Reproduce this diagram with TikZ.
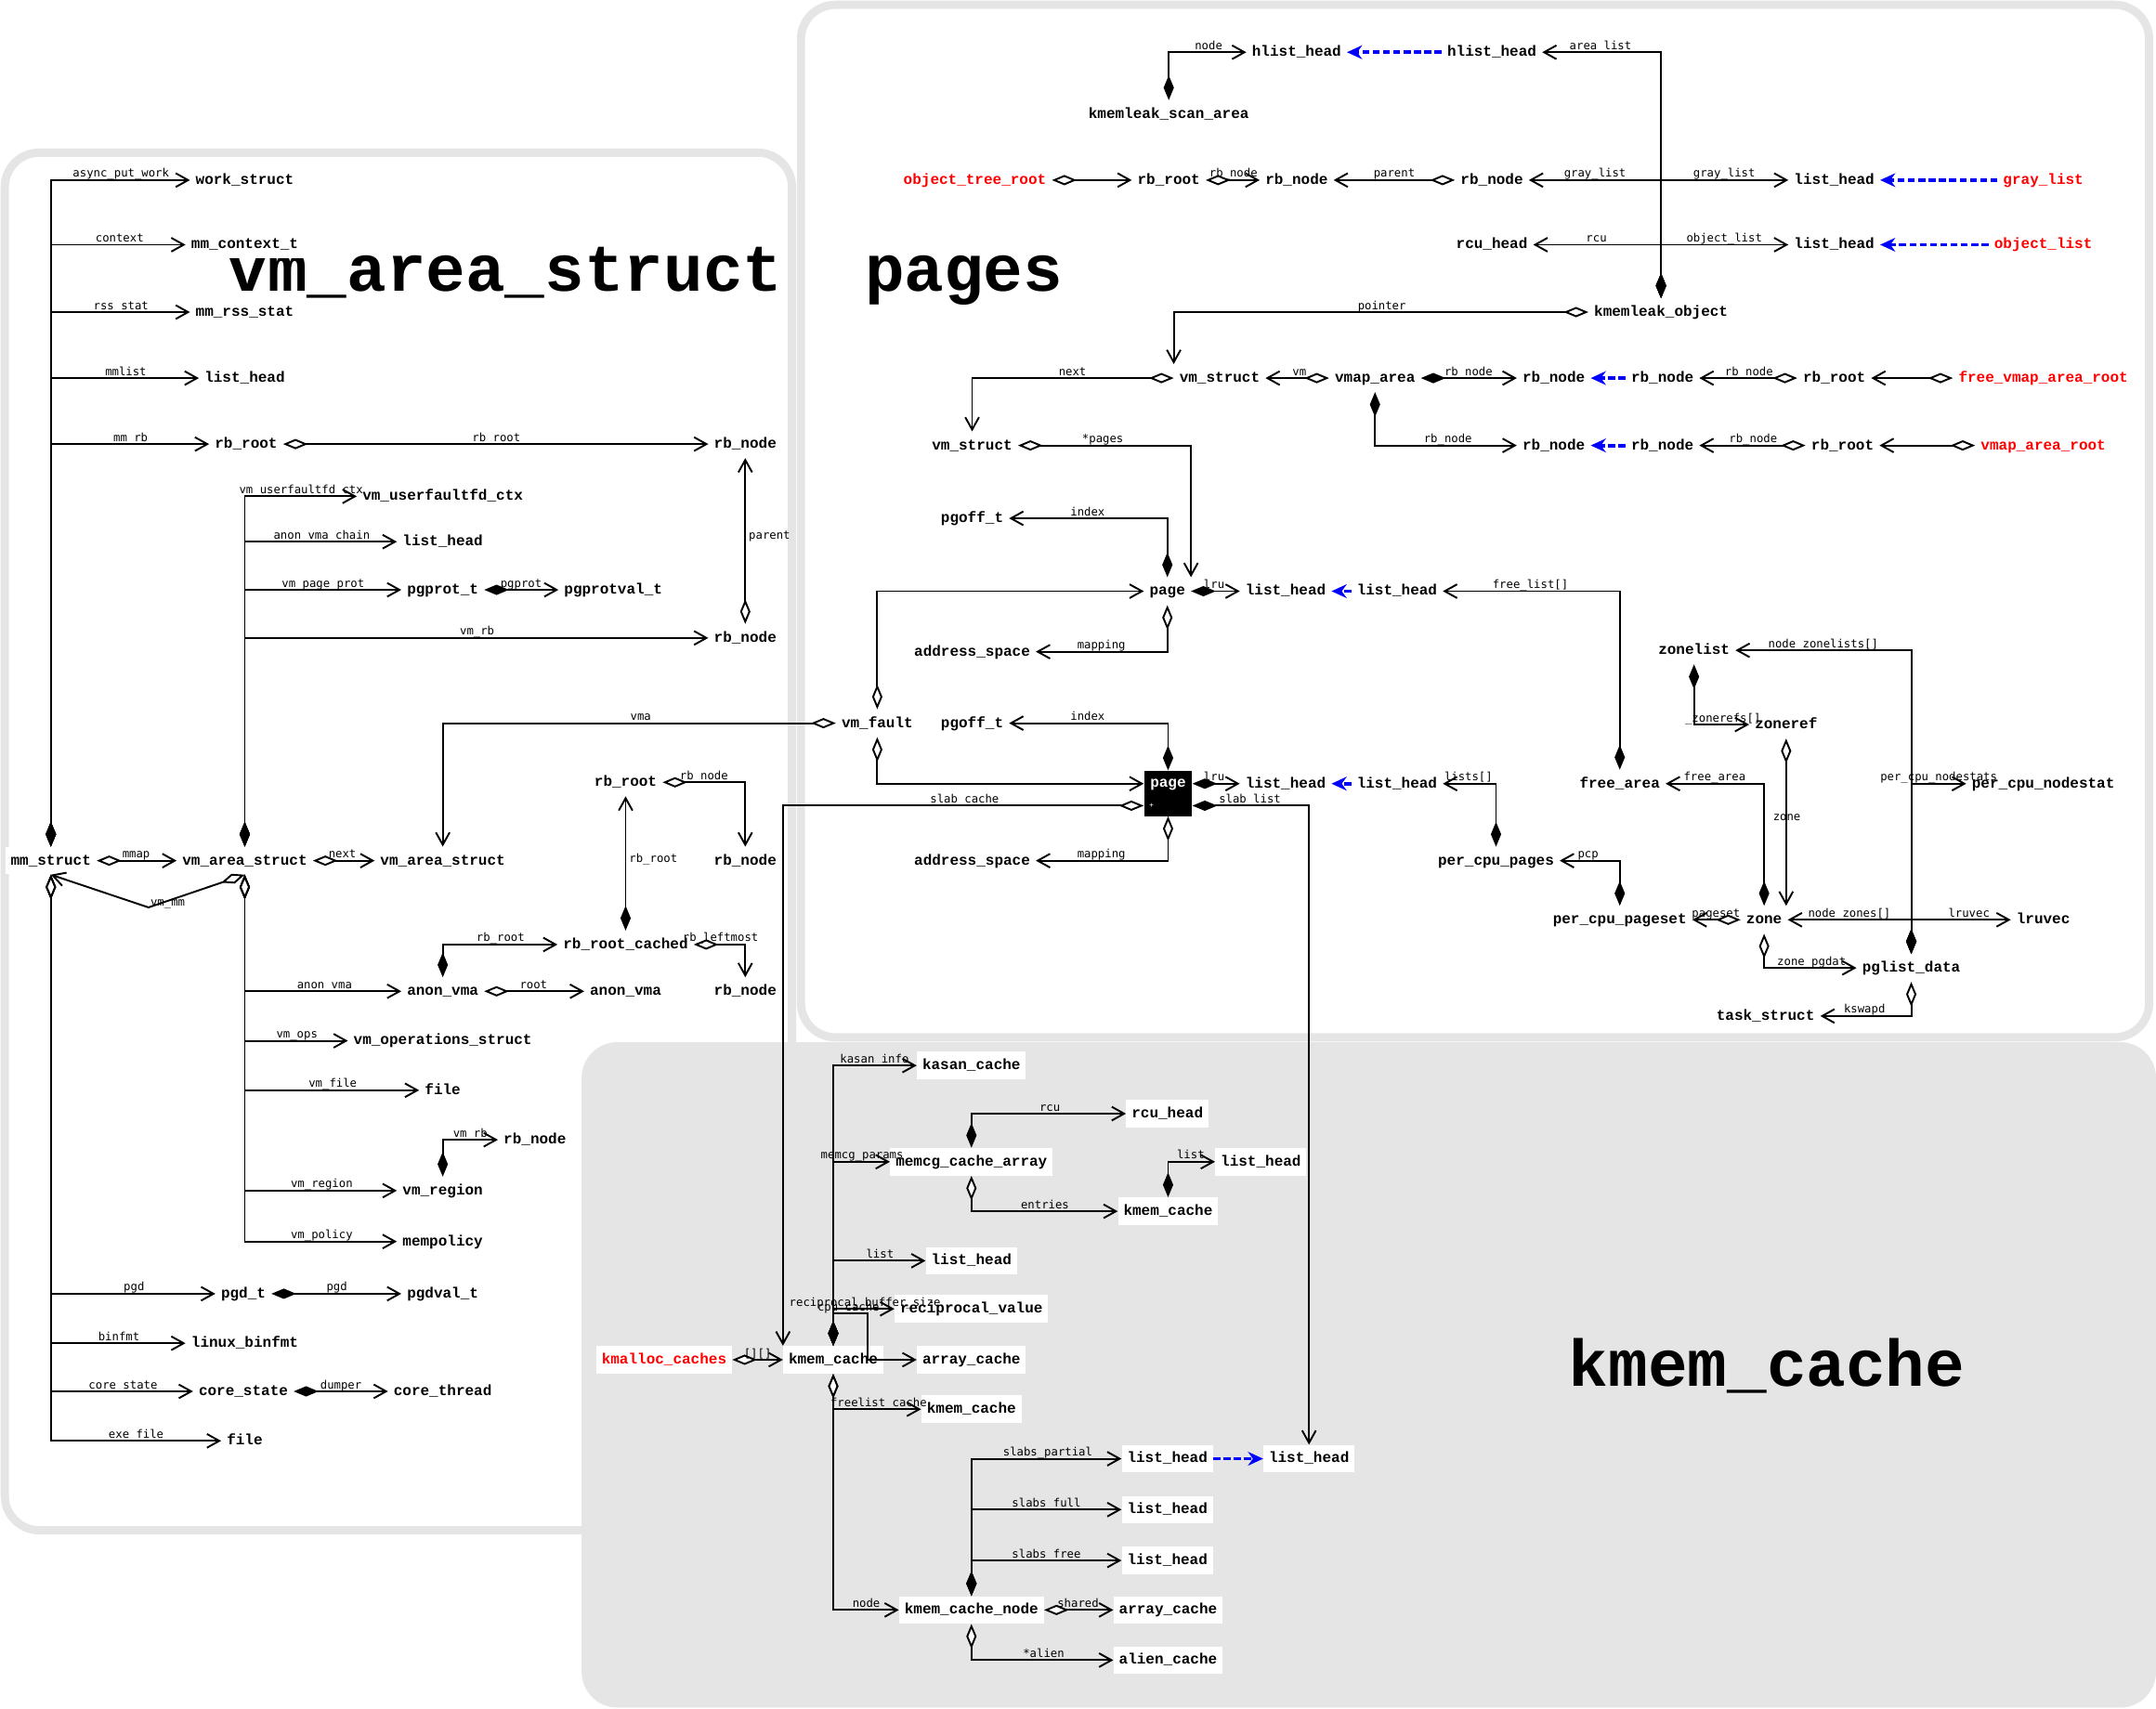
\documentclass[tikz,border=0pt]{standalone}
\usepackage{fontspec}
\usetikzlibrary{arrows.meta}
\newfontfamily\nodefont{Liberation Mono}
\newfontfamily\labfont{DejaVu Sans Mono}
\definecolor{clgray}{HTML}{E5E5E5}
\tikzset{
sbox/.style={font=\nodefont\bfseries\fontsize{10.8}{12}\selectfont,fill=white,inner xsep=4pt,inner ysep=0pt,minimum height=20pt,text height=8pt,text depth=2pt},
rbox/.style={sbox,text=red},
pbox/.style={sbox,fill=black,text=white,minimum width=35pt,minimum height=33pt,text height=12pt,text depth=21pt},
lab/.style={font=\labfont\fontsize{8.3}{9}\selectfont,anchor=base,inner sep=0pt},
comp/.style={line width=1.3pt,arrows={Diamond[length=18pt,width=7.5pt]-Straight Barb[length=9pt,width=10pt]}},
agg/.style={line width=1.3pt,arrows={Diamond[length=18pt,width=7.5pt,fill=white]-Straight Barb[length=9pt,width=10pt]}},
blu/.style={draw=blue,line width=2.6pt,dash pattern=on 5pt off 2.5pt,arrows={-Stealth[length=11pt,width=10pt]}},
ttl/.style={font=\nodefont\bfseries\fontsize{48}{50}\selectfont,anchor=base,inner sep=0pt},
clus/.style={draw=clgray,line width=6pt,fill=white,rounded corners=25pt}
}
\begin{document}
\begin{tikzpicture}[x=1pt,y=-1pt]
\useasboundingbox (0,0) rectangle (1568,1243);
\draw[clus] (3.5,111) rectangle (576,1113);
\draw[clus] (582.5,3.5) rectangle (1563,754.5);
\fill[clgray,rounded corners=26pt] (423,758) rectangle (1568,1242);
\node[ttl] (t1) at (367.5,212) {vm\_area\_struct};
\node[ttl] (t2) at (701,212) {pages};
\node[ttl] (t3) at (1285,1008) {kmem\_cache};

\node[sbox] (mm) at (37,626) {mm\_struct};
\node[sbox] (ws) at (178,131) {work\_struct};
\node[sbox] (mmc) at (178,178) {mm\_context\_t};
\node[sbox] (mrs) at (178,227) {mm\_rss\_stat};
\node[sbox] (mlh) at (178,275) {list\_head};
\node[sbox] (mrb) at (179,323) {rb\_root};
\node[sbox] (rbn1) at (542,323) {rb\_node};
\node[sbox] (rbn2) at (542,464) {rb\_node};
\node[sbox] (vas1) at (178,626) {vm\_area\_struct};
\node[sbox] (vas2) at (322,626) {vm\_area\_struct};
\node[sbox] (ufd) at (322,361) {vm\_userfaultfd\_ctx};
\node[sbox] (avc) at (322,394) {list\_head};
\node[sbox] (pgp) at (322,429) {pgprot\_t};
\node[sbox] (pgpv) at (446,429) {pgprotval\_t};
\node[sbox] (lrbr) at (455,569) {rb\_root};
\node[sbox] (lrbn1) at (542,626) {rb\_node};
\node[sbox] (rbrc) at (455,687) {rb\_root\_cached};
\node[sbox] (lrbn2) at (542,721) {rb\_node};
\node[sbox] (avma1) at (322,721) {anon\_vma};
\node[sbox] (avma2) at (455,721) {anon\_vma};
\node[sbox] (vops) at (322,757) {vm\_operations\_struct};
\node[sbox] (vfile) at (322,793) {file};
\node[sbox] (vrbn) at (389,829) {rb\_node};
\node[sbox] (vreg) at (322,866) {vm\_region};
\node[sbox] (vpol) at (322,903) {mempolicy};
\node[sbox] (pgdt) at (177,941) {pgd\_t};
\node[sbox] (pgdv) at (322,941) {pgdval\_t};
\node[sbox] (binf) at (178,977) {linux\_binfmt};
\node[sbox] (cst) at (177,1012) {core\_state};
\node[sbox] (cth) at (322,1012) {core\_thread};
\node[sbox] (exf) at (178,1048) {file};
\coordinate (vmmbend) at (108,660);

\node[sbox] (hl1) at (943,38) {hlist\_head};
\node[sbox] (hl2) at (1085,38) {hlist\_head};
\node[sbox] (ksa) at (850,83) {kmemleak\_scan\_area};
\node[rbox] (otr) at (709,131) {object\_tree\_root};
\node[sbox] (ork) at (850,131) {rb\_root};
\node[sbox] (orn1) at (943,131) {rb\_node};
\node[sbox] (orn2) at (1085,131) {rb\_node};
\node[sbox] (lhg) at (1334,131) {list\_head};
\node[rbox] (grl) at (1486,131) {gray\_list};
\node[sbox] (rcuh) at (1085,178) {rcu\_head};
\node[sbox] (lho) at (1334,178) {list\_head};
\node[rbox] (objl) at (1486,178) {object\_list};
\node[sbox] (kmo) at (1208,227) {kmemleak\_object};
\node[sbox] (vms1) at (887,275) {vm\_struct};
\node[sbox] (vmap) at (1000,275) {vmap\_area};
\node[sbox] (vrn1) at (1130,275) {rb\_node};
\node[sbox] (vrn2) at (1209,275) {rb\_node};
\node[sbox] (vrr1) at (1334,275) {rb\_root};
\node[rbox] (fvr) at (1486,275) {free\_vmap\_area\_root};
\node[sbox] (vrn3) at (1130,324) {rb\_node};
\node[sbox] (vrn4) at (1209,324) {rb\_node};
\node[sbox] (vrr2) at (1340,324) {rb\_root};
\node[rbox] (var) at (1486,324) {vmap\_area\_root};
\node[sbox] (vms2) at (707,324) {vm\_struct};
\node[sbox] (pgo1) at (707,377) {pgoff\_t};
\node[sbox] (page1) at (849,430) {page};
\node[sbox] (lh1) at (935,430) {list\_head};
\node[sbox] (lh2) at (1016,430) {list\_head};
\node[sbox] (as1) at (707,474) {address\_space};
\node[sbox] (vmf) at (638,526) {vm\_fault};
\node[sbox] (pgo2) at (707,526) {pgoff\_t};
\node[pbox] (page2) at (849.5,577) {page};
\node[font=\labfont\fontsize{5}{6}\selectfont,text=white,inner sep=0pt] (pplus) at (837.5,586) {+};
\node[sbox] (lh3) at (935,570) {list\_head};
\node[sbox] (lh4) at (1016,570) {list\_head};
\node[sbox] (as2) at (707,626) {address\_space};
\node[sbox] (fra) at (1178,570) {free\_area};
\node[sbox] (pcp) at (1088,626) {per\_cpu\_pages};
\node[sbox] (pcps) at (1178,669) {per\_cpu\_pageset};
\node[sbox] (zone) at (1283,669) {zone};
\node[sbox] (zl) at (1232,473) {zonelist};
\node[sbox] (zr) at (1299,527) {zoneref};
\node[sbox] (pgl) at (1390,704) {pglist\_data};
\node[sbox] (pcn) at (1486,570) {per\_cpu\_nodestat};
\node[sbox] (lru) at (1486,669) {lruvec};
\node[sbox] (tsk) at (1284,739) {task\_struct};

\node[rbox] (kmc) at (483,989) {kmalloc\_caches};
\node[sbox] (kc1) at (606,989) {kmem\_cache};
\node[sbox] (kas) at (706.5,775) {kasan\_cache};
\node[sbox] (mca) at (706.5,845) {memcg\_cache\_array};
\node[sbox] (rcu2) at (849,810) {rcu\_head};
\node[sbox] (kc2) at (849.5,881) {kmem\_cache};
\node[sbox] (lh5) at (917,845) {list\_head};
\node[sbox] (lh6) at (706.5,917) {list\_head};
\node[sbox] (rcv) at (706.5,952) {reciprocal\_value};
\node[sbox] (arc1) at (706.5,989) {array\_cache};
\node[sbox] (kc3) at (706.5,1025) {kmem\_cache};
\node[sbox] (kcn) at (706.5,1171) {kmem\_cache\_node};
\node[sbox] (lh7) at (849,1061) {list\_head};
\node[sbox] (lh8) at (952,1061) {list\_head};
\node[sbox] (lh9) at (849,1098) {list\_head};
\node[sbox] (lh10) at (849,1135) {list\_head};
\node[sbox] (arc2) at (849.5,1171) {array\_cache};
\node[sbox] (alc) at (849.5,1207.5) {alien\_cache};
\coordinate (cpuc) at (631,955);

\draw[comp] (mm.north) |- (ws.west) node[lab] at (88,129) {async\_put\_work};
\draw[comp] (mm.north) |- (mmc.west) node[lab] at (87,176) {context};
\draw[comp] (mm.north) |- (mrs.west) node[lab] at (88,225) {rss\_stat};
\draw[comp] (mm.north) |- (mlh.west) node[lab] at (91.5,273) {mmlist};
\draw[comp] (mm.north) |- (mrb.west) node[lab] at (95,321) {mm\_rb};
\draw[agg] (mrb.east) -- (rbn1.west) node[lab] at (361,321) {rb\_root};
\draw[agg] (rbn2.north) -- (rbn1.south) node[lab,anchor=west] at (544,390) {parent};
\draw[comp] (vas1.north) |- (ufd.west) node[lab] at (219,359) {vm\_userfaultfd\_ctx};
\draw[comp] (vas1.north) |- (avc.west) node[lab] at (234,392) {anon\_vma\_chain};
\draw[comp] (vas1.north) |- (pgp.west) node[lab] at (235,427) {vm\_page\_prot};
\draw[comp] (pgp.east) -- (pgpv.west) node[lab] at (379,427) {pgprot};
\draw[comp] (vas1.north) |- (rbn2.west) node[lab] at (347,462) {vm\_rb};
\draw[agg] (mm.east) -- (vas1.west) node[lab] at (99,624) {mmap};
\draw[agg] (vas1.east) -- (vas2.west) node[lab] at (249,624) {next};
\draw[agg] (vas1.south) -- (vmmbend) -- (mm.south) node[lab] at (122,659) {vm\_mm};
\draw[agg] (vas1.south) |- (avma1.west) node[lab] at (236,719) {anon\_vma};
\draw[agg] (vas1.south) |- (vops.west) node[lab] at (216,755) {vm\_ops};
\draw[agg] (vas1.south) |- (vfile.west) node[lab] at (242,791) {vm\_file};
\draw[agg] (vas1.south) |- (vreg.west) node[lab] at (234,864) {vm\_region};
\draw[agg] (vas1.south) |- (vpol.west) node[lab] at (234,901) {vm\_policy};
\draw[comp] (vreg.north) |- (vrbn.west) node[lab] at (342,827) {vm\_rb};
\draw[comp] (avma1.north) |- (rbrc.west) node[lab] at (364,685) {rb\_root};
\draw[agg] (avma1.east) -- (avma2.west) node[lab] at (388,719) {root};
\draw[comp] (rbrc.north) -- (lrbr.south) node[lab,anchor=west] at (457,625) {rb\_root};
\draw[agg] (lrbr.east) -| (lrbn1.north) node[lab] at (512,567) {rb\_node};
\draw[agg] (rbrc.east) -| (lrbn2.north) node[lab] at (524,685) {rb\_leftmost};
\draw[agg] (mm.south) |- (pgdt.west) node[lab] at (97.5,939) {pgd};
\draw[comp] (pgdt.east) -- (pgdv.west) node[lab] at (245,939) {pgd};
\draw[agg] (mm.south) |- (binf.west) node[lab] at (86.5,975) {binfmt};
\draw[agg] (mm.south) |- (cst.west) node[lab] at (89.5,1010) {core\_state};
\draw[comp] (cst.east) -- (cth.west) node[lab] at (248,1010) {dumper};
\draw[agg] (mm.south) |- (exf.west) node[lab] at (99,1046) {exe\_file};
\draw[agg] (vmf.west) -| (vas2.north) node[lab] at (466,524) {vma};

\draw[comp] (ksa.north) |- (hl1.west) node[lab] at (879,36) {node};
\draw[blu] (hl2.west) -- (hl1.east);
\draw[comp] (kmo.north) |- (hl2.east) node[lab] at (1164,36) {area\_list};
\draw[comp] (kmo.north) |- (orn2.east) node[lab] at (1160,129) {gray\_list};
\draw[comp] (kmo.north) |- (lhg.west) node[lab] at (1254,129) {gray\_list};
\draw[comp] (kmo.north) |- (rcuh.east) node[lab] at (1161,176) {rcu};
\draw[comp] (kmo.north) |- (lho.west) node[lab] at (1254,176) {object\_list};
\draw[blu] (grl.west) -- (lhg.east);
\draw[blu] (objl.west) -- (lho.east);
\draw[agg] (otr.east) -- (ork.west);
\draw[agg] (ork.east) -- (orn1.west) node[lab] at (897,129) {rb\_node};
\draw[agg] (orn2.west) -- (orn1.east) node[lab] at (1014,129) {parent};
\draw[agg] (kmo.west) -| (vms1.north west) node[lab] at (1005,225) {pointer};
\draw[agg] (vms1.west) -| (vms2.north) node[lab] at (780,273) {next};
\draw[agg] (vmap.west) -- (vms1.east) node[lab] at (945,273) {vm};
\draw[comp] (vmap.east) -- (vrn1.west) node[lab] at (1068,273) {rb\_node};
\draw[blu] (vrn2.west) -- (vrn1.east);
\draw[agg] (vrr1.west) -- (vrn2.east) node[lab] at (1272,273) {rb\_node};
\draw[agg] (fvr.west) -- (vrr1.east);
\draw[comp] (vmap.south) |- (vrn3.west) node[lab] at (1053,322) {rb\_node};
\draw[blu] (vrn4.west) -- (vrn3.east);
\draw[agg] (vrr2.west) -- (vrn4.east) node[lab] at (1275,322) {rb\_node};
\draw[agg] (var.west) -- (vrr2.east);
\draw[agg] (vms2.east) -| (page1.north east) node[lab] at (802,322) {*pages};
\draw[comp] (page1.north) |- (pgo1.east) node[lab] at (791,375) {index};
\draw[comp] (page1.east) -- (lh1.west) node[lab] at (883,428) {lru};
\draw[blu] (lh2.west) -- (lh1.east);
\draw[comp] (fra.north) |- (lh2.east) node[lab] at (1113,428) {free\_list[]};
\draw[agg] (page1.south) |- (as1.east) node[lab] at (801,472) {mapping};
\draw[agg] (vmf.north) |- (page1.west);
\draw[agg] (vmf.south) |- ([yshift=7pt]page2.west);
\draw[comp] (page2.north) |- (pgo2.east) node[lab] at (791,524) {index};
\draw[comp] ([yshift=7pt]page2.east) -- (lh3.west) node[lab] at (883,568) {lru};
\draw[blu] (lh4.west) -- (lh3.east);
\draw[comp] (pcp.north) |- (lh4.east) node[lab] at (1068,568) {lists[]};
\draw[agg] (page2.south) |- (as2.east) node[lab] at (801,624) {mapping};
\draw[comp] (pcps.north) |- (pcp.east) node[lab] at (1155,624) {pcp};
\draw[comp] (zone.north) |- (fra.east) node[lab] at (1247,568) {free\_area};
\draw[agg] (zone.west) -- (pcps.east) node[lab] at (1248,667) {pageset};
\draw[comp] (pgl.north) |- (zl.east) node[lab] at (1326,471) {node\_zonelists[]};
\draw[comp] (zl.south) |- (zr.west) node[lab] at (1253,525) {\_zonerefs[]};
\draw[agg] (zr.south) -- (zr.south |- zone.north) node[lab,anchor=center] at (1299.5,594.5) {zone};
\draw[comp] (pgl.north) |- (pcn.west) node[lab] at (1410,568) {per\_cpu\_nodestats};
\draw[comp] (pgl.north) |- (zone.east) node[lab] at (1345,667) {node\_zones[]};
\draw[comp] (pgl.north) |- (lru.west) node[lab] at (1432,667) {lruvec};
\draw[agg] (zone.south) |- (pgl.west) node[lab] at (1317.5,702) {zone\_pgdat};
\draw[agg] (pgl.south) |- (tsk.east) node[lab] at (1356,737) {kswapd};

\draw[agg] ([yshift=-9pt]page2.west) -| (kc1.north west) node[lab] at (701.5,584) {slab\_cache};
\draw[comp] ([yshift=-9pt]page2.east) -| (lh8.north) node[lab] at (909,584) {slab\_list};
\draw[agg] (kmc.east) -- (kc1.west) node[lab] at (551,987) {[][]};
\draw[comp] (kc1.north) |- (kas.west) node[lab] at (636,773) {kasan\_info};
\draw[comp] (kc1.north) |- (mca.west) node[lab] at (627,843) {memcg\_params};
\draw[comp] (kc1.north) |- (lh6.west) node[lab] at (640,915) {list};
\draw[comp] (kc1.north) |- (rcv.west) node[lab] at (629,950) {reciprocal\_buffer\_size};
\draw[comp] (kc1.north) |- (cpuc) |- (arc1.west) node[lab] at (617,953.5) {cpu\_cache};
\draw[agg] (kc1.south) |- (kc3.west) node[lab] at (639,1023) {freelist\_cache};
\draw[agg] (kc1.south) |- (kcn.west) node[lab] at (630,1169) {node};
\draw[comp] (mca.north) |- (rcu2.west) node[lab] at (763.5,808) {rcu};
\draw[agg] (mca.south) |- (kc2.west) node[lab] at (760,879) {entries};
\draw[comp] (kc2.north) |- (lh5.west) node[lab] at (866,843) {list};
\draw[comp] (kcn.north) |- (lh7.west) node[lab] at (762,1059) {slabs\_partial};
\draw[comp] (kcn.north) |- (lh9.west) node[lab] at (761,1096) {slabs\_full};
\draw[comp] (kcn.north) |- (lh10.west) node[lab] at (761,1133) {slabs\_free};
\draw[agg] (kcn.east) -- (arc2.west) node[lab] at (784,1169) {shared};
\draw[agg] (kcn.south) |- (alc.west) node[lab] at (759,1205.5) {*alien};
\draw[blu] (lh7.east) -- (lh8.west);
\end{tikzpicture}
\end{document}
